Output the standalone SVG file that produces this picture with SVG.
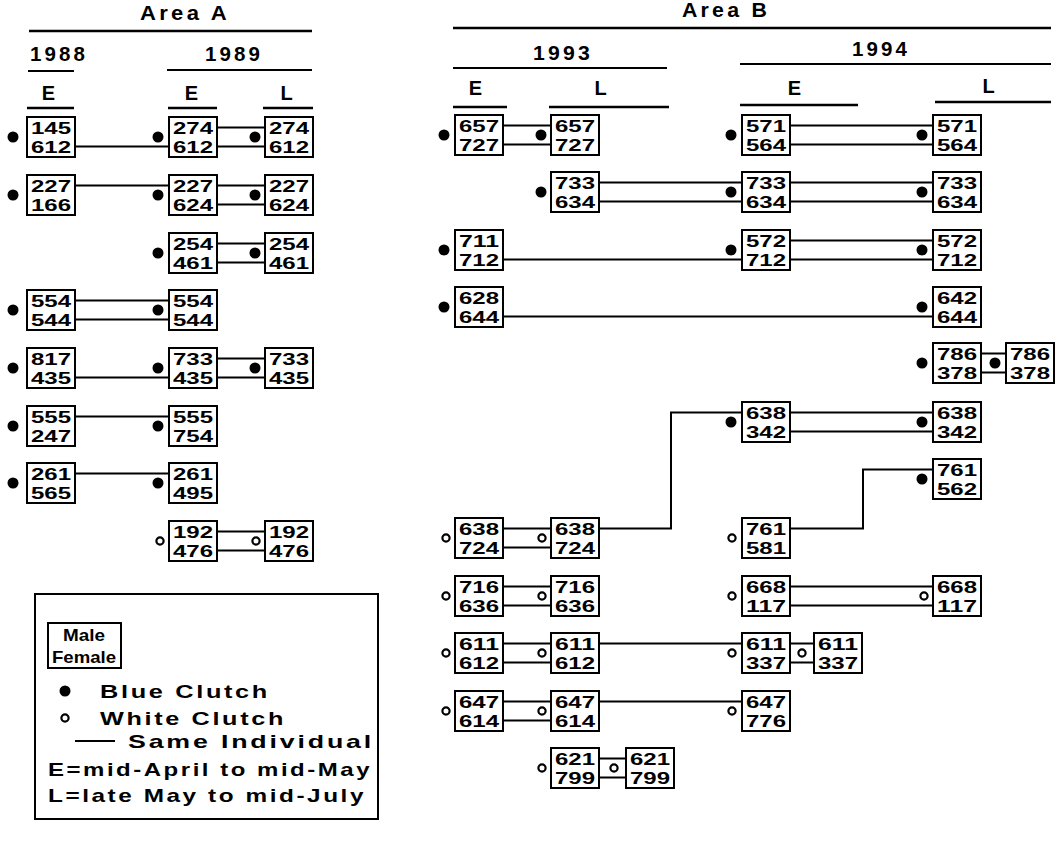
<svg xmlns="http://www.w3.org/2000/svg" width="1063" height="847" viewBox="0 0 1063 847">
<style>
text{font-family:"Liberation Sans",Arial,sans-serif;font-weight:bold;fill:#000}
.bx{fill:#fff;stroke:#000;stroke-width:2}
.n{font-size:16.5px;text-anchor:middle}
.h{font-size:20px;text-anchor:middle;letter-spacing:3px}
.lg{font-size:19px;letter-spacing:2px}
.ln{stroke:#000;stroke-width:2;fill:none}
.hl{stroke:#000;stroke-width:2.5;fill:none}
.bd{fill:#000}
.wd{fill:#fff;stroke:#000;stroke-width:2.2}
</style>
<defs>
<circle id="B" r="5.5" class="bd"/>
<circle id="W" r="3.6" class="wd"/>
</defs>
<rect width="1063" height="847" fill="#fff"/>
<g id="headers">
<text class="h" x="185" y="20" textLength="90" lengthAdjust="spacingAndGlyphs">Area A</text>
<line class="hl" x1="29" y1="31" x2="312" y2="31"/>
<text class="h" x="59" y="61" textLength="58" lengthAdjust="spacingAndGlyphs">1988</text>
<line class="ln" x1="28" y1="71" x2="74" y2="71" stroke-width="1.5"/>
<text class="h" x="234" y="61" textLength="58" lengthAdjust="spacingAndGlyphs">1989</text>
<line class="ln" x1="167" y1="70" x2="312" y2="70"/>
<text class="h" x="50" y="100" letter-spacing="0">E</text>
<line class="hl" x1="27" y1="108" x2="74" y2="108" stroke-width="3"/>
<text class="h" x="193" y="100" letter-spacing="0">E</text>
<line class="hl" x1="168" y1="108" x2="217" y2="108" stroke-width="3"/>
<text class="h" x="288" y="100" letter-spacing="0">L</text>
<line class="hl" x1="263" y1="108" x2="313" y2="108" stroke-width="3"/>
<text class="h" x="726" y="17" textLength="88" lengthAdjust="spacingAndGlyphs">Area B</text>
<line class="hl" x1="453" y1="28" x2="1051" y2="28"/>
<text class="h" x="563" y="60" textLength="60" lengthAdjust="spacingAndGlyphs">1993</text>
<line class="ln" x1="453" y1="68" x2="667" y2="68"/>
<text class="h" x="881" y="56" textLength="58" lengthAdjust="spacingAndGlyphs">1994</text>
<line class="ln" x1="740" y1="64" x2="1051" y2="64"/>
<text class="h" x="477" y="95" letter-spacing="0">E</text>
<line class="hl" x1="453" y1="107" x2="507" y2="107" stroke-width="3"/>
<text class="h" x="602" y="95" letter-spacing="0">L</text>
<line class="hl" x1="549" y1="107" x2="669" y2="107" stroke-width="3"/>
<text class="h" x="796" y="95" letter-spacing="0">E</text>
<line class="hl" x1="740" y1="105" x2="858" y2="105" stroke-width="3"/>
<text class="h" x="990" y="93" letter-spacing="0">L</text>
<line class="hl" x1="935" y1="102" x2="1051" y2="102" stroke-width="3"/>
</g>
<g id="connectors">
<path class="ln" d="M75 146.5H169M217 127.5H265M217 146.5H265"/>
<path class="ln" d="M75 185.5H169M217 185.5H265M217 204.5H265"/>
<path class="ln" d="M217 243.5H265M217 262.5H265"/>
<path class="ln" d="M75 300.5H169M75 319.5H169"/>
<path class="ln" d="M75 377.5H169M217 358.5H265M217 377.5H265"/>
<path class="ln" d="M75 416.5H169"/>
<path class="ln" d="M75 473.5H169"/>
<path class="ln" d="M217 531.5H265M217 550.5H265"/>
<path class="ln" d="M503 125.5H551M503 144.5H551M790 125.5H933M790 144.5H933"/>
<path class="ln" d="M599 182.5H742M599 201.5H742M790 182.5H933M790 201.5H933"/>
<path class="ln" d="M503 259.5H742M790 240.5H933M790 259.5H933"/>
<path class="ln" d="M503 316.5H933"/>
<path class="ln" d="M981 353.5H1006M981 372.5H1006"/>
<path class="ln" d="M790 412.5H933M790 431.5H933"/>
<path class="ln" d="M503 528.5H551M503 547.5H551M599 528.5H671V412.5H742"/>
<path class="ln" d="M790 528.5H863V469.5H933"/>
<path class="ln" d="M503 586.5H551M503 605.5H551M790 586.5H933M790 605.5H933"/>
<path class="ln" d="M503 643.5H551M503 662.5H551M599 643.5H742M790 643.5H814M790 662.5H814"/>
<path class="ln" d="M503 701.5H551M503 720.5H551M599 701.5H742"/>
<path class="ln" d="M599 758.5H626M599 777.5H626"/>
</g>
<g id="A1-145"><rect class="bx" x="27" y="117" width="48" height="40"/><text class="n" x="51" y="134" textLength="40" lengthAdjust="spacingAndGlyphs">145</text><text class="n" x="51" y="152.5" textLength="40" lengthAdjust="spacingAndGlyphs">612</text><use href="#B" x="13" y="137"/></g>
<g id="A2-274"><rect class="bx" x="169" y="117" width="48" height="40"/><text class="n" x="193" y="134" textLength="40" lengthAdjust="spacingAndGlyphs">274</text><text class="n" x="193" y="152.5" textLength="40" lengthAdjust="spacingAndGlyphs">612</text><use href="#B" x="158" y="137"/></g>
<g id="A3-274"><rect class="bx" x="265" y="117" width="48" height="40"/><text class="n" x="289" y="134" textLength="40" lengthAdjust="spacingAndGlyphs">274</text><text class="n" x="289" y="152.5" textLength="40" lengthAdjust="spacingAndGlyphs">612</text><use href="#B" x="255" y="137"/></g>
<g id="A1-227"><rect class="bx" x="27" y="175" width="48" height="40"/><text class="n" x="51" y="192" textLength="40" lengthAdjust="spacingAndGlyphs">227</text><text class="n" x="51" y="210.5" textLength="40" lengthAdjust="spacingAndGlyphs">166</text><use href="#B" x="13" y="195"/></g>
<g id="A2-227"><rect class="bx" x="169" y="175" width="48" height="40"/><text class="n" x="193" y="192" textLength="40" lengthAdjust="spacingAndGlyphs">227</text><text class="n" x="193" y="210.5" textLength="40" lengthAdjust="spacingAndGlyphs">624</text><use href="#B" x="158" y="195"/></g>
<g id="A3-227"><rect class="bx" x="265" y="175" width="48" height="40"/><text class="n" x="289" y="192" textLength="40" lengthAdjust="spacingAndGlyphs">227</text><text class="n" x="289" y="210.5" textLength="40" lengthAdjust="spacingAndGlyphs">624</text><use href="#B" x="255" y="195"/></g>
<g id="A2-254"><rect class="bx" x="169" y="233" width="48" height="40"/><text class="n" x="193" y="250" textLength="40" lengthAdjust="spacingAndGlyphs">254</text><text class="n" x="193" y="268.5" textLength="40" lengthAdjust="spacingAndGlyphs">461</text><use href="#B" x="158" y="253"/></g>
<g id="A3-254"><rect class="bx" x="265" y="233" width="48" height="40"/><text class="n" x="289" y="250" textLength="40" lengthAdjust="spacingAndGlyphs">254</text><text class="n" x="289" y="268.5" textLength="40" lengthAdjust="spacingAndGlyphs">461</text><use href="#B" x="255" y="253"/></g>
<g id="A1-554"><rect class="bx" x="27" y="290" width="48" height="40"/><text class="n" x="51" y="307" textLength="40" lengthAdjust="spacingAndGlyphs">554</text><text class="n" x="51" y="325.5" textLength="40" lengthAdjust="spacingAndGlyphs">544</text><use href="#B" x="13" y="310"/></g>
<g id="A2-554"><rect class="bx" x="169" y="290" width="48" height="40"/><text class="n" x="193" y="307" textLength="40" lengthAdjust="spacingAndGlyphs">554</text><text class="n" x="193" y="325.5" textLength="40" lengthAdjust="spacingAndGlyphs">544</text><use href="#B" x="158" y="310"/></g>
<g id="A1-817"><rect class="bx" x="27" y="348" width="48" height="40"/><text class="n" x="51" y="365" textLength="40" lengthAdjust="spacingAndGlyphs">817</text><text class="n" x="51" y="383.5" textLength="40" lengthAdjust="spacingAndGlyphs">435</text><use href="#B" x="13" y="368"/></g>
<g id="A2-733"><rect class="bx" x="169" y="348" width="48" height="40"/><text class="n" x="193" y="365" textLength="40" lengthAdjust="spacingAndGlyphs">733</text><text class="n" x="193" y="383.5" textLength="40" lengthAdjust="spacingAndGlyphs">435</text><use href="#B" x="158" y="368"/></g>
<g id="A3-733"><rect class="bx" x="265" y="348" width="48" height="40"/><text class="n" x="289" y="365" textLength="40" lengthAdjust="spacingAndGlyphs">733</text><text class="n" x="289" y="383.5" textLength="40" lengthAdjust="spacingAndGlyphs">435</text><use href="#B" x="255" y="368"/></g>
<g id="A1-555"><rect class="bx" x="27" y="406" width="48" height="40"/><text class="n" x="51" y="423" textLength="40" lengthAdjust="spacingAndGlyphs">555</text><text class="n" x="51" y="441.5" textLength="40" lengthAdjust="spacingAndGlyphs">247</text><use href="#B" x="13" y="426"/></g>
<g id="A2-555"><rect class="bx" x="169" y="406" width="48" height="40"/><text class="n" x="193" y="423" textLength="40" lengthAdjust="spacingAndGlyphs">555</text><text class="n" x="193" y="441.5" textLength="40" lengthAdjust="spacingAndGlyphs">754</text><use href="#B" x="158" y="426"/></g>
<g id="A1-261"><rect class="bx" x="27" y="463" width="48" height="40"/><text class="n" x="51" y="480" textLength="40" lengthAdjust="spacingAndGlyphs">261</text><text class="n" x="51" y="498.5" textLength="40" lengthAdjust="spacingAndGlyphs">565</text><use href="#B" x="13" y="483"/></g>
<g id="A2-261"><rect class="bx" x="169" y="463" width="48" height="40"/><text class="n" x="193" y="480" textLength="40" lengthAdjust="spacingAndGlyphs">261</text><text class="n" x="193" y="498.5" textLength="40" lengthAdjust="spacingAndGlyphs">495</text><use href="#B" x="158" y="483"/></g>
<g id="A2-192"><rect class="bx" x="169" y="521" width="48" height="40"/><text class="n" x="193" y="538" textLength="40" lengthAdjust="spacingAndGlyphs">192</text><text class="n" x="193" y="556.5" textLength="40" lengthAdjust="spacingAndGlyphs">476</text><use href="#W" x="160" y="541"/></g>
<g id="A3-192"><rect class="bx" x="265" y="521" width="48" height="40"/><text class="n" x="289" y="538" textLength="40" lengthAdjust="spacingAndGlyphs">192</text><text class="n" x="289" y="556.5" textLength="40" lengthAdjust="spacingAndGlyphs">476</text><use href="#W" x="256" y="541"/></g>
<g id="B1-657"><rect class="bx" x="455" y="115" width="48" height="40"/><text class="n" x="479" y="132" textLength="40" lengthAdjust="spacingAndGlyphs">657</text><text class="n" x="479" y="150.5" textLength="40" lengthAdjust="spacingAndGlyphs">727</text><use href="#B" x="444" y="135"/></g>
<g id="B2-657"><rect class="bx" x="551" y="115" width="48" height="40"/><text class="n" x="575" y="132" textLength="40" lengthAdjust="spacingAndGlyphs">657</text><text class="n" x="575" y="150.5" textLength="40" lengthAdjust="spacingAndGlyphs">727</text><use href="#B" x="541" y="135"/></g>
<g id="B3-571"><rect class="bx" x="742" y="115" width="48" height="40"/><text class="n" x="766" y="132" textLength="40" lengthAdjust="spacingAndGlyphs">571</text><text class="n" x="766" y="150.5" textLength="40" lengthAdjust="spacingAndGlyphs">564</text><use href="#B" x="731" y="135"/></g>
<g id="B4-571"><rect class="bx" x="933" y="115" width="48" height="40"/><text class="n" x="957" y="132" textLength="40" lengthAdjust="spacingAndGlyphs">571</text><text class="n" x="957" y="150.5" textLength="40" lengthAdjust="spacingAndGlyphs">564</text><use href="#B" x="922" y="135"/></g>
<g id="B2-733"><rect class="bx" x="551" y="172" width="48" height="40"/><text class="n" x="575" y="189" textLength="40" lengthAdjust="spacingAndGlyphs">733</text><text class="n" x="575" y="207.5" textLength="40" lengthAdjust="spacingAndGlyphs">634</text><use href="#B" x="541" y="192"/></g>
<g id="B3-733"><rect class="bx" x="742" y="172" width="48" height="40"/><text class="n" x="766" y="189" textLength="40" lengthAdjust="spacingAndGlyphs">733</text><text class="n" x="766" y="207.5" textLength="40" lengthAdjust="spacingAndGlyphs">634</text><use href="#B" x="731" y="192"/></g>
<g id="B4-733"><rect class="bx" x="933" y="172" width="48" height="40"/><text class="n" x="957" y="189" textLength="40" lengthAdjust="spacingAndGlyphs">733</text><text class="n" x="957" y="207.5" textLength="40" lengthAdjust="spacingAndGlyphs">634</text><use href="#B" x="922" y="192"/></g>
<g id="B1-711"><rect class="bx" x="455" y="230" width="48" height="40"/><text class="n" x="479" y="247" textLength="40" lengthAdjust="spacingAndGlyphs">711</text><text class="n" x="479" y="265.5" textLength="40" lengthAdjust="spacingAndGlyphs">712</text><use href="#B" x="444" y="250"/></g>
<g id="B3-572"><rect class="bx" x="742" y="230" width="48" height="40"/><text class="n" x="766" y="247" textLength="40" lengthAdjust="spacingAndGlyphs">572</text><text class="n" x="766" y="265.5" textLength="40" lengthAdjust="spacingAndGlyphs">712</text><use href="#B" x="731" y="250"/></g>
<g id="B4-572"><rect class="bx" x="933" y="230" width="48" height="40"/><text class="n" x="957" y="247" textLength="40" lengthAdjust="spacingAndGlyphs">572</text><text class="n" x="957" y="265.5" textLength="40" lengthAdjust="spacingAndGlyphs">712</text><use href="#B" x="922" y="250"/></g>
<g id="B1-628"><rect class="bx" x="455" y="287" width="48" height="40"/><text class="n" x="479" y="304" textLength="40" lengthAdjust="spacingAndGlyphs">628</text><text class="n" x="479" y="322.5" textLength="40" lengthAdjust="spacingAndGlyphs">644</text><use href="#B" x="444" y="307"/></g>
<g id="B4-642"><rect class="bx" x="933" y="287" width="48" height="40"/><text class="n" x="957" y="304" textLength="40" lengthAdjust="spacingAndGlyphs">642</text><text class="n" x="957" y="322.5" textLength="40" lengthAdjust="spacingAndGlyphs">644</text><use href="#B" x="922" y="307"/></g>
<g id="B4-786"><rect class="bx" x="933" y="343" width="48" height="40"/><text class="n" x="957" y="360" textLength="40" lengthAdjust="spacingAndGlyphs">786</text><text class="n" x="957" y="378.5" textLength="40" lengthAdjust="spacingAndGlyphs">378</text><use href="#B" x="922" y="363"/></g>
<g id="B5-786"><rect class="bx" x="1006" y="343" width="48" height="40"/><text class="n" x="1030" y="360" textLength="40" lengthAdjust="spacingAndGlyphs">786</text><text class="n" x="1030" y="378.5" textLength="40" lengthAdjust="spacingAndGlyphs">378</text><use href="#B" x="995" y="363"/></g>
<g id="B3-638"><rect class="bx" x="742" y="402" width="48" height="40"/><text class="n" x="766" y="419" textLength="40" lengthAdjust="spacingAndGlyphs">638</text><text class="n" x="766" y="437.5" textLength="40" lengthAdjust="spacingAndGlyphs">342</text><use href="#B" x="731" y="422"/></g>
<g id="B4-638"><rect class="bx" x="933" y="402" width="48" height="40"/><text class="n" x="957" y="419" textLength="40" lengthAdjust="spacingAndGlyphs">638</text><text class="n" x="957" y="437.5" textLength="40" lengthAdjust="spacingAndGlyphs">342</text><use href="#B" x="922" y="422"/></g>
<g id="B4-761"><rect class="bx" x="933" y="459" width="48" height="40"/><text class="n" x="957" y="476" textLength="40" lengthAdjust="spacingAndGlyphs">761</text><text class="n" x="957" y="494.5" textLength="40" lengthAdjust="spacingAndGlyphs">562</text><use href="#B" x="922" y="479"/></g>
<g id="B1-638"><rect class="bx" x="455" y="518" width="48" height="40"/><text class="n" x="479" y="535" textLength="40" lengthAdjust="spacingAndGlyphs">638</text><text class="n" x="479" y="553.5" textLength="40" lengthAdjust="spacingAndGlyphs">724</text><use href="#W" x="446" y="538"/></g>
<g id="B2-638"><rect class="bx" x="551" y="518" width="48" height="40"/><text class="n" x="575" y="535" textLength="40" lengthAdjust="spacingAndGlyphs">638</text><text class="n" x="575" y="553.5" textLength="40" lengthAdjust="spacingAndGlyphs">724</text><use href="#W" x="542" y="538"/></g>
<g id="B3-761"><rect class="bx" x="742" y="518" width="48" height="40"/><text class="n" x="766" y="535" textLength="40" lengthAdjust="spacingAndGlyphs">761</text><text class="n" x="766" y="553.5" textLength="40" lengthAdjust="spacingAndGlyphs">581</text><use href="#W" x="732" y="538"/></g>
<g id="B1-716"><rect class="bx" x="455" y="576" width="48" height="40"/><text class="n" x="479" y="593" textLength="40" lengthAdjust="spacingAndGlyphs">716</text><text class="n" x="479" y="611.5" textLength="40" lengthAdjust="spacingAndGlyphs">636</text><use href="#W" x="446" y="596"/></g>
<g id="B2-716"><rect class="bx" x="551" y="576" width="48" height="40"/><text class="n" x="575" y="593" textLength="40" lengthAdjust="spacingAndGlyphs">716</text><text class="n" x="575" y="611.5" textLength="40" lengthAdjust="spacingAndGlyphs">636</text><use href="#W" x="542" y="596"/></g>
<g id="B3-668"><rect class="bx" x="742" y="576" width="48" height="40"/><text class="n" x="766" y="593" textLength="40" lengthAdjust="spacingAndGlyphs">668</text><text class="n" x="766" y="611.5" textLength="40" lengthAdjust="spacingAndGlyphs">117</text><use href="#W" x="732" y="596"/></g>
<g id="B4-668"><rect class="bx" x="933" y="576" width="48" height="40"/><text class="n" x="957" y="593" textLength="40" lengthAdjust="spacingAndGlyphs">668</text><text class="n" x="957" y="611.5" textLength="40" lengthAdjust="spacingAndGlyphs">117</text><use href="#W" x="924" y="596"/></g>
<g id="B1-611"><rect class="bx" x="455" y="633" width="48" height="40"/><text class="n" x="479" y="650" textLength="40" lengthAdjust="spacingAndGlyphs">611</text><text class="n" x="479" y="668.5" textLength="40" lengthAdjust="spacingAndGlyphs">612</text><use href="#W" x="446" y="653"/></g>
<g id="B2-611"><rect class="bx" x="551" y="633" width="48" height="40"/><text class="n" x="575" y="650" textLength="40" lengthAdjust="spacingAndGlyphs">611</text><text class="n" x="575" y="668.5" textLength="40" lengthAdjust="spacingAndGlyphs">612</text><use href="#W" x="542" y="653"/></g>
<g id="B3-611"><rect class="bx" x="742" y="633" width="48" height="40"/><text class="n" x="766" y="650" textLength="40" lengthAdjust="spacingAndGlyphs">611</text><text class="n" x="766" y="668.5" textLength="40" lengthAdjust="spacingAndGlyphs">337</text><use href="#W" x="732" y="653"/></g>
<g id="B3b-611"><rect class="bx" x="814" y="633" width="48" height="40"/><text class="n" x="838" y="650" textLength="40" lengthAdjust="spacingAndGlyphs">611</text><text class="n" x="838" y="668.5" textLength="40" lengthAdjust="spacingAndGlyphs">337</text><use href="#W" x="802" y="653"/></g>
<g id="B1-647"><rect class="bx" x="455" y="691" width="48" height="40"/><text class="n" x="479" y="708" textLength="40" lengthAdjust="spacingAndGlyphs">647</text><text class="n" x="479" y="726.5" textLength="40" lengthAdjust="spacingAndGlyphs">614</text><use href="#W" x="446" y="711"/></g>
<g id="B2-647"><rect class="bx" x="551" y="691" width="48" height="40"/><text class="n" x="575" y="708" textLength="40" lengthAdjust="spacingAndGlyphs">647</text><text class="n" x="575" y="726.5" textLength="40" lengthAdjust="spacingAndGlyphs">614</text><use href="#W" x="542" y="711"/></g>
<g id="B3-647"><rect class="bx" x="742" y="691" width="48" height="40"/><text class="n" x="766" y="708" textLength="40" lengthAdjust="spacingAndGlyphs">647</text><text class="n" x="766" y="726.5" textLength="40" lengthAdjust="spacingAndGlyphs">776</text><use href="#W" x="732" y="711"/></g>
<g id="B2-621"><rect class="bx" x="551" y="748" width="48" height="40"/><text class="n" x="575" y="765" textLength="40" lengthAdjust="spacingAndGlyphs">621</text><text class="n" x="575" y="783.5" textLength="40" lengthAdjust="spacingAndGlyphs">799</text><use href="#W" x="542" y="768"/></g>
<g id="B2b-621"><rect class="bx" x="626" y="748" width="48" height="40"/><text class="n" x="650" y="765" textLength="40" lengthAdjust="spacingAndGlyphs">621</text><text class="n" x="650" y="783.5" textLength="40" lengthAdjust="spacingAndGlyphs">799</text><use href="#W" x="614" y="768"/></g>
<g id="legend">
<rect x="35" y="594" width="343" height="225" fill="#fff" stroke="#000" stroke-width="2"/>
<rect x="48" y="623" width="73" height="45" fill="#fff" stroke="#000" stroke-width="2"/>
<text x="84" y="641" font-size="17" text-anchor="middle" textLength="42" lengthAdjust="spacingAndGlyphs">Male</text>
<text x="84" y="663" font-size="17" text-anchor="middle" textLength="64" lengthAdjust="spacingAndGlyphs">Female</text>
<use href="#B" x="65" y="691"/>
<text class="lg" x="100" y="698" textLength="170" lengthAdjust="spacingAndGlyphs">Blue Clutch</text>
<use href="#W" x="65" y="718"/>
<text class="lg" x="100" y="725" textLength="186" lengthAdjust="spacingAndGlyphs">White Clutch</text>
<line class="ln" x1="75" y1="741" x2="115" y2="741"/>
<text class="lg" x="128" y="748" textLength="246" lengthAdjust="spacingAndGlyphs">Same Individual</text>
<text class="lg" x="48" y="776" textLength="324" lengthAdjust="spacingAndGlyphs">E=mid-April to mid-May</text>
<text class="lg" x="48" y="802" textLength="318" lengthAdjust="spacingAndGlyphs">L=late May to mid-July</text>
</g>
</svg>
